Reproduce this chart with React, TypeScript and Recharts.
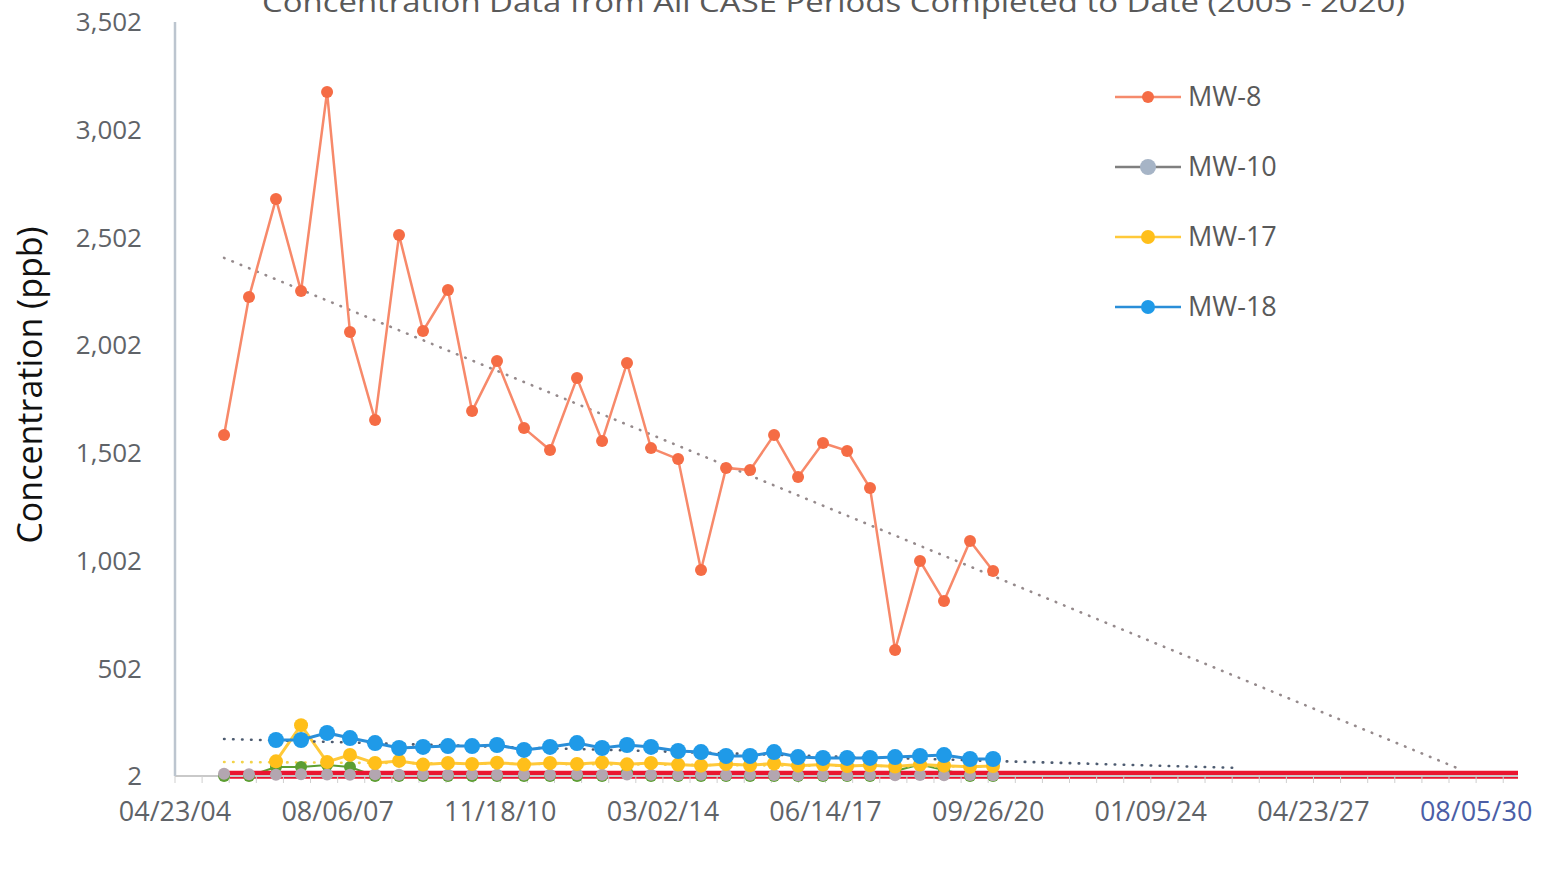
import React from "react";
import { LineChart, Line, XAxis, YAxis } from "recharts";

const TITLE = "Concentration Data from All CASE Periods Completed to Date (2005 - 2020)";
const Y_LABEL = "Concentration (ppb)";

const SAMPLE_DATES = [
  "2005-04-20", "2005-10-21", "2006-05-08", "2006-11-09", "2007-05-20", "2007-11-05",
  "2008-05-08", "2008-11-01", "2009-04-27", "2009-10-28", "2010-04-24", "2010-10-25",
  "2011-05-12", "2011-11-20", "2012-06-06", "2012-12-08", "2013-06-10", "2013-12-04",
  "2014-06-22", "2014-12-08", "2015-06-11", "2015-12-05", "2016-05-30", "2016-11-23",
  "2017-05-26", "2017-11-20", "2018-05-08", "2018-11-09", "2019-05-12", "2019-11-05",
  "2020-05-15", "2020-11-01",
];

const MW8 = [
  1585, 2225, 2680, 2253, 3177, 2063, 1654, 2513, 2068, 2258, 1696, 1928, 1617, 1515, 1849, 1557,
  1919, 1524, 1473, 958, 1432, 1422, 1585, 1390, 1548, 1511, 1339, 587, 1000, 814, 1093, 954,
];
const MW10 = [
  12, 10, 8, 10, 9, 8, 10, 8, 9, 8, 10, 8, 9, 8, 10, 8,
  9, 8, 7, 8, 7, 8, 7, 6, 7, 6, 7, 6, 7, 6, 7, 6,
];
const MW17 = [
  null, null, 70, 238, 67, 100, 62, 72, 55, 62, 58, 64, 55, 62, 58, 65,
  56, 62, 55, 50, 58, 52, 60, 50, 55, 48, 52, 46, 55, 50, 45, 48,
];
const MW18 = [
  null, null, 169, 169, 202, 178, 155, 132, 137, 141, 141, 146, 123, 137, 155, 132,
  146, 137, 118, 113, 95, 95, 113, 90, 86, 86, 86, 90, 95, 99, 81, 81,
];
const OTHER = [
  2, 2, 44, 44, 53, 44, 2, 2, 2, 2, 2, 2, 2, 2, 2, 2,
  20, 2, 2, 2, 2, 2, 2, 2, 2, 2, 2, 25, 55, 30, 2, 2,
];

// trend lines: [start date, end date], [start value, end value]
const MW8_TREND_DATES = ["2005-04-20", "2030-03-18"];
const MW8_TREND = [2407, 39];
const MW17_TREND_DATES = ["2005-04-20", "2020-11-01"];
const MW17_TREND = [67, 45];
const MW18_TREND_DATES = ["2005-04-20", "2025-10-29"];
const MW18_TREND = [174, 39];
const BASE_DATES = ["2005-04-20", "2031-06-10"];
const BASE = [8, 8];

const X_TICK_LABELS = ["04/23/04", "08/06/07", "11/18/10", "03/02/14", "06/14/17", "09/26/20", "01/09/24", "04/23/27", "08/05/30"];
const X_END = "2031-06-10";
const Y_TICKS = [2, 502, 1002, 1502, 2002, 2502, 3002, 3502];

const LEGEND = [
  { name: "MW-8", line: "#f58a6c", dot: "#f56c45", r: 6 },
  { name: "MW-10", line: "#7f7f7f", dot: "#a6b4c6", r: 8 },
  { name: "MW-17", line: "#ffc93a", dot: "#ffbf1a", r: 7 },
  { name: "MW-18", line: "#2a8ed8", dot: "#1f9ae8", r: 7 },
];

const FONT = "'Open Sans', sans-serif";

const iso = (s: string) => Date.parse(s);
const fromTick = (s: string) => {
  const [m, d, y] = s.split("/").map(Number);
  return Date.UTC(2000 + y, m - 1, d);
};
const fmt = (t: number) => {
  const d = new Date(t);
  const p = (n: number) => String(n).padStart(2, "0");
  return `${p(d.getUTCMonth() + 1)}/${p(d.getUTCDate())}/${p(d.getUTCFullYear() % 100)}`;
};

const MAJOR = X_TICK_LABELS.map(fromTick);
const X_START = MAJOR[0];
const X_MAX = iso(X_END);
const MINOR_STEP = (MAJOR[1] - MAJOR[0]) / 6;
const ALL_TICKS: number[] = [];
for (let t = X_START; t <= X_MAX; t += MINOR_STEP) ALL_TICKS.push(t);

// merge everything into one table keyed by time
const rows = new Map<number, any>();
const put = (dates: string[], vals: (number | null)[], key: string) => {
  dates.forEach((d, i) => {
    const t = iso(d);
    if (!rows.has(t)) rows.set(t, { t });
    if (vals[i] != null) rows.get(t)[key] = vals[i];
  });
};
put(SAMPLE_DATES, MW8, "mw8");
put(SAMPLE_DATES, MW10, "mw10");
put(SAMPLE_DATES, MW17, "mw17");
put(SAMPLE_DATES, MW18, "mw18");
put(SAMPLE_DATES, OTHER, "other");
put(MW8_TREND_DATES, MW8_TREND, "mw8t");
put(MW17_TREND_DATES, MW17_TREND, "mw17t");
put(MW18_TREND_DATES, MW18_TREND, "mw18t");
put(BASE_DATES, BASE, "base");
const data = Array.from(rows.values()).sort((a, b) => a.t - b.t);

const XTick = (props: any) => {
  const { x, y, payload } = props;
  const i = MAJOR.indexOf(payload.value);
  if (i < 0) return <g />;
  const last = i === MAJOR.length - 1;
  return (
    <text x={x} y={y} dy="0.71em" textAnchor="middle" fill={last ? "#4b5ea6" : "#5f6368"} fontSize={27} fontFamily={FONT}>
      {fmt(payload.value)}
    </text>
  );
};

const dotted = { strokeDasharray: "0.5 8.5", strokeLinecap: "round" as const, strokeWidth: 2.6 };

export default function App() {
  return (
    <div style={{ position: "relative", width: 1546, height: 869, overflow: "hidden", background: "#fff" }}>
      <style>{"body{margin:0}"}</style>
      <LineChart width={1546} height={869} data={data} margin={{ top: 22, right: 28, bottom: 0, left: 0 }}>
        <XAxis
          dataKey="t"
          type="number"
          domain={[X_START, X_MAX]}
          ticks={ALL_TICKS}
          interval={0}
          tick={<XTick />}
          tickSize={7}
          tickMargin={19}
          height={93}
          stroke="#c9c9c9"
          axisLine={{ stroke: "#c9c9c9", strokeWidth: 2 }}
          tickLine={{ stroke: "#cfcfcf" }}
        />
        <YAxis
          type="number"
          domain={[2, 3502]}
          ticks={Y_TICKS}
          interval={0}
          width={175}
          tickSize={0}
          tickMargin={33}
          tickFormatter={(v) => v.toLocaleString("en-US")}
          tick={{ fill: "#5f6368", fontSize: 26, fontFamily: FONT }}
          axisLine={{ stroke: "#bcc5cf", strokeWidth: 2.5 }}
          tickLine={false}
        />
        <Line dataKey="other" stroke="#5c9e31" strokeWidth={2} connectNulls dot={{ r: 6, fill: "#5c9e31", strokeWidth: 0 }} activeDot={false} isAnimationActive={false} />
        <Line dataKey="mw10" stroke="#808080" strokeWidth={2} connectNulls dot={{ r: 6, fill: "#b3a6b0", strokeWidth: 0 }} activeDot={false} isAnimationActive={false} />
        <Line dataKey="base" stroke="#ea1530" strokeWidth={8} connectNulls dot={false} activeDot={false} isAnimationActive={false} />
        <Line dataKey="mw17t" stroke="#f2d34a" {...dotted} connectNulls dot={false} activeDot={false} isAnimationActive={false} />
        <Line dataKey="mw17" stroke="#ffc93a" strokeWidth={3} connectNulls dot={{ r: 7, fill: "#ffbf1a", strokeWidth: 0 }} activeDot={false} isAnimationActive={false} />
        <Line dataKey="mw18t" stroke="#4d5b70" {...dotted} connectNulls dot={false} activeDot={false} isAnimationActive={false} />
        <Line dataKey="mw18" stroke="#2a8ed8" strokeWidth={3} connectNulls dot={{ r: 8, fill: "#1f9ae8", strokeWidth: 0 }} activeDot={false} isAnimationActive={false} />
        <Line dataKey="mw8t" stroke="#958a8c" {...dotted} connectNulls dot={false} activeDot={false} isAnimationActive={false} />
        <Line dataKey="mw8" stroke="#f7896a" strokeWidth={2.5} connectNulls dot={{ r: 6, fill: "#f56c45", strokeWidth: 0 }} activeDot={false} isAnimationActive={false} />
      </LineChart>
      <svg width={1546} height={869} style={{ position: "absolute", left: 0, top: 0, pointerEvents: "none" }}>
        <text x={262} y={12} fontSize={28} fill="#595959" fontFamily={FONT} textLength={1143} lengthAdjust="spacingAndGlyphs">
          {TITLE}
        </text>
        <text transform="translate(42,385) rotate(-90)" textAnchor="middle" fontSize={34} fill="#111" fontFamily={FONT}>
          {Y_LABEL}
        </text>
        {LEGEND.map((s, i) => {
          const cy = 97 + i * 70;
          return (
            <g key={s.name}>
              <line x1={1115} x2={1181} y1={cy} y2={cy} stroke={s.line} strokeWidth={2.5} />
              <circle cx={1148} cy={cy} r={s.r} fill={s.dot} />
              <text x={1188} y={cy} dy="0.35em" fontSize={27} fill="#595959" fontFamily={FONT}>
                {s.name}
              </text>
            </g>
          );
        })}
      </svg>
    </div>
  );
}
